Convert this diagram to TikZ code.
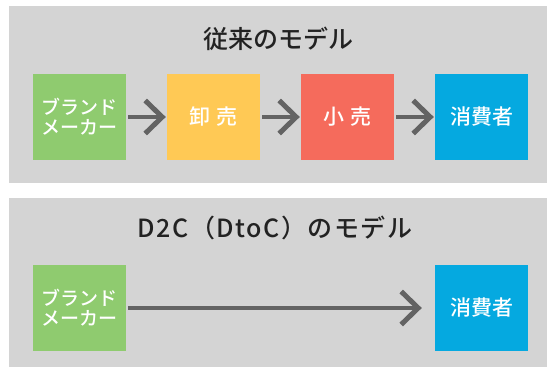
\documentclass[tikz,border=0pt]{standalone}
\usepackage{fontspec}
\newfontfamily\jp{Noto Sans CJK JP Medium}
\newfontfamily\jpb{Noto Sans CJK JP Medium}
\usetikzlibrary{arrows.meta}
\definecolor{panel}{HTML}{D4D4D4}
\definecolor{cgreen}{HTML}{8FCB6F}
\definecolor{cyellow}{HTML}{FFC955}
\definecolor{cred}{HTML}{F56B5C}
\definecolor{cblue}{HTML}{05A9E0}
\definecolor{carrow}{HTML}{636363}
\definecolor{ctitle}{HTML}{222222}
\tikzset{
  boxnode/.style={minimum width=93pt, minimum height=86pt, inner sep=0pt, text=white, align=center, font=\jpb\fontsize{21}{22}\selectfont},
  brandnode/.style={boxnode, fill=cgreen, font=\jpb\fontsize{19}{20}\selectfont},
  titlenode/.style={text=ctitle, font=\jp\fontsize{25}{27}\selectfont, inner sep=0pt},
  arr/.style={draw=carrow, line width=4.5pt, -{Straight Barb[length=17pt,width=33pt,line width=5pt]}, shorten <=2pt}
}
\begin{document}
\begin{tikzpicture}[x=1pt,y=-1pt]
\useasboundingbox (0,0) rectangle (547,369);
\fill[panel] (9,6) rectangle (547,183);
\fill[panel] (9,198) rectangle (547,367);
\node[titlenode] (t1) at (278,39) {従来のモデル};
\node[titlenode] (t2) at (275,228) {\addfontfeature{LetterSpace=6}D2C（DtoC）のモデル};
\node[brandnode] (b1) at (79.5,117) {ブランド\\メーカー};
\node[boxnode, fill=cyellow] (w1) at (213.5,117) {卸\hspace{0.3em}売};
\node[boxnode, fill=cred] (r1) at (347.5,117) {小\hspace{0.3em}売};
\node[boxnode, fill=cblue] (c1) at (481.5,117) {消費者};
\node[brandnode] (b2) at (79.5,308) {ブランド\\メーカー};
\node[boxnode, fill=cblue] (c2) at (481.5,308) {消費者};
\draw[arr, shorten >=1pt] (b1) -- (w1);
\draw[arr, shorten >=1pt] (w1) -- (r1);
\draw[arr, shorten >=1pt] (r1) -- (c1);
\draw[arr, shorten >=13pt] (b2) -- (c2);
\end{tikzpicture}
\end{document}
